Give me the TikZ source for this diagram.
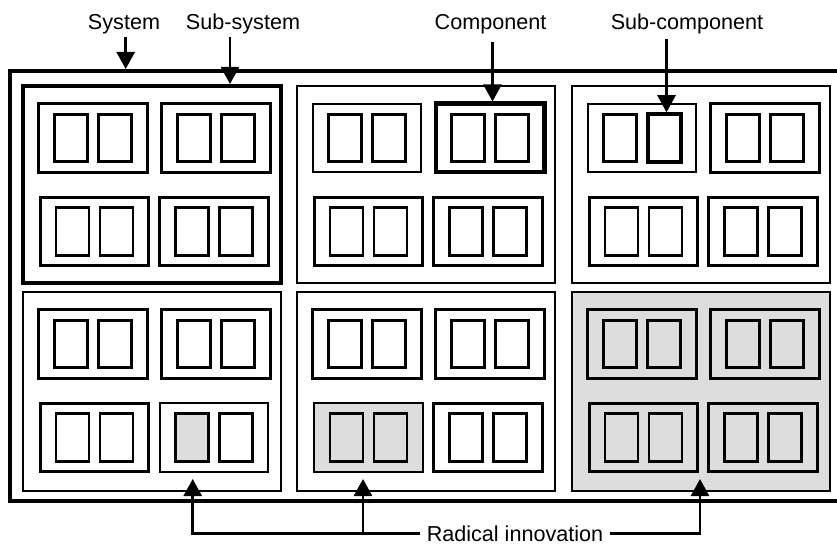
\documentclass[tikz,border=0pt]{standalone}
\usepackage{fontspec}
\setmainfont{Liberation Sans}
\usetikzlibrary{arrows.meta}
\definecolor{boxgray}{RGB}{221,221,221}

% one component: outer box with two sub-components side by side
\newcommand\modcomp[4]{% #1 block name, #2 component id, #3 centre x, #4 centre y
  \node[compbox, cs-#1-#2/.try] (#1-#2) at (#3,#4) {};
  \node[subbox, ss-#1-#2-s1/.try] (#1-#2-s1) at (#3-22,#4) {};
  \node[subbox, ss-#1-#2-s2/.try] (#1-#2-s2) at (#3+22,#4) {};
}
% one block of 2x2 components
\newcommand\modblock[4]{% #1 name, #2 left x, #3 top y, #4 height
  \node[blockbox, minimum height=#4pt, bs-#1/.try] (#1) at (#2+129,#3+#4/2) {};
  \modcomp{#1}{c11}{#2+70}{#3+52}
  \modcomp{#1}{c12}{#2+193}{#3+52}
  \modcomp{#1}{c21}{#2+71.5}{#3+145.5}
  \modcomp{#1}{c22}{#2+191}{#3+145.5}
}

\tikzset{
  box/.style={rectangle, draw=black, inner sep=0pt},
  blockbox/.style={box, line width=1.5pt, minimum width=258pt},
  compbox/.style={box, line width=3pt, minimum width=108.5pt, minimum height=68.5pt},
  subbox/.style={box, line width=2.7pt, minimum width=33pt, minimum height=47.5pt},
  thincomp/.style={line width=1.8pt},
  hicomp/.style={line width=4.5pt},
  hisub/.style={line width=4pt},
  lbl/.style={inner sep=0pt, font=\fontsize{21.6}{26}\selectfont},
  arr/.style={line width=2.6pt, -{Triangle[width=18pt,length=17pt]}},
  % highlighted and shaded parts
  bs-b11/.style={line width=4pt},
  bs-b23/.style={fill=boxgray},
  cs-b12-c11/.style={thincomp},
  cs-b12-c12/.style={hicomp},
  cs-b13-c11/.style={thincomp},
  ss-b13-c11-s2/.style={hisub},
  cs-b21-c22/.style={thincomp},
  ss-b21-c22-s1/.style={fill=boxgray},
  cs-b22-c21/.style={thincomp, fill=boxgray},
}

\begin{document}
\begin{tikzpicture}[x=1pt, y=-1pt]
  \useasboundingbox (0,0) rectangle (837,545);
  \clip (0,0) rectangle (837,545);

  % outer frame
  \node[box, line width=4pt, minimum width=832pt, minimum height=430pt] (frame) at (426,286) {};

  % blocks
  \modblock{b11}{23}{86}{197}
  \modblock{b12}{297}{86}{197}
  \modblock{b13}{572}{86}{197}
  \modblock{b21}{23}{292}{199}
  \modblock{b22}{297}{292}{199}
  \modblock{b23}{572}{292}{199}

  % labels
  \node[lbl, anchor=base] (lsys) at (124,29.3) {System};
  \node[lbl, anchor=base] (lsubsys) at (243,29.3) {Sub-system};
  \node[lbl, anchor=base] (lcomp) at (490.5,29.3) {Component};
  \node[lbl, anchor=base] (lsubcomp) at (687,29.3) {Sub-component};
  \node[lbl, anchor=base, inner xsep=7pt] (lrad) at (515,541) {Radical innovation};

  % pointer arrows from the top labels
  \coordinate (s1) at (125.7,37);
  \coordinate (s2) at (230,37);
  \coordinate (s3) at (492.5,42);
  \coordinate (s4) at (666.5,39);
  \draw[arr] (s1) -- (s1 |- frame.north);
  \draw[arr] (s2) -- (s2 |- b11.north);
  \draw[arr] (s3) -- (s3 |- b12-c12.north);
  \draw[arr] (s4) -- (s4 |- b13-c11-s2.north);

  % radical innovation pointers
  \coordinate (t1) at (192.7,479);
  \coordinate (t2) at (363,479);
  \coordinate (t3) at (700,479);
  \draw[arr] (lrad.west) -| (t1);
  \draw[arr] (t2 |- lrad.west) -- (t2);
  \draw[arr] (lrad.east) -| (t3);
\end{tikzpicture}
\end{document}
